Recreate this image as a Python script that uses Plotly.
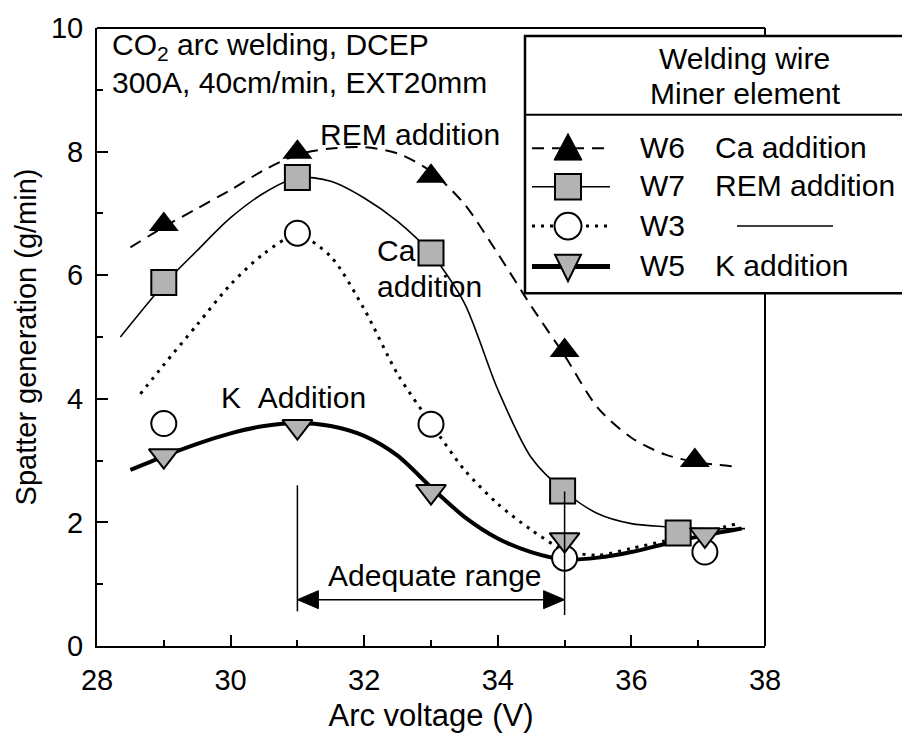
import plotly.graph_objects as go

# ---- measured spatter generation (g/min) vs arc voltage (V) ----
w6_v = [29, 31, 33, 35, 36.95]
w6_s = [6.82, 7.99, 7.6, 4.78, 3.0]

w7_v = [29, 31, 33, 34.97, 36.7]
w7_s = [5.88, 7.58, 6.36, 2.51, 1.83]

w3_v = [29, 31, 33, 35, 37.1]
w3_s = [3.6, 6.68, 3.59, 1.42, 1.52]

w5_v = [29, 31, 33, 35, 37.1]
w5_s = [3.08, 3.55, 2.5, 1.72, 1.8]

# ---- smoothed trend curves ----
w6_curve_v = [28.5, 29, 29.5, 30, 30.5, 31, 31.5, 32, 32.5, 33, 33.5, 34, 34.5, 35, 35.5, 36, 36.5, 37, 37.6]
w6_curve_s = [6.45, 6.78, 7.08, 7.38, 7.7, 7.95, 8.05, 8.07, 7.97, 7.68, 7.15, 6.35, 5.5, 4.7, 3.85, 3.37, 3.1, 2.97, 2.9]

w7_curve_v = [28.35, 29, 29.5, 30, 30.5, 31, 31.5, 32, 32.5, 33, 33.5, 34, 34.5, 35, 35.5, 36, 36.5, 37, 37.7]
w7_curve_s = [5.0, 5.85, 6.4, 6.93, 7.33, 7.58, 7.52, 7.25, 6.87, 6.35, 5.55, 4.15, 3.05, 2.5, 2.14, 1.98, 1.93, 1.9, 1.9]

w3_curve_v = [28.65, 29, 29.5, 30, 30.5, 31, 31.5, 32, 32.5, 33, 33.5, 34, 34.5, 35, 35.5, 36, 36.5, 37, 37.55]
w3_curve_s = [4.08, 4.55, 5.2, 5.85, 6.35, 6.65, 6.3, 5.45, 4.4, 3.6, 2.85, 2.3, 1.88, 1.55, 1.47, 1.58, 1.7, 1.82, 1.97]

w5_curve_v = [28.5, 29, 29.5, 30, 30.5, 31, 31.5, 32, 32.5, 33, 33.5, 34, 34.5, 35, 35.5, 36, 36.5, 37, 37.65]
w5_curve_s = [2.85, 3.07, 3.27, 3.44, 3.56, 3.61, 3.56, 3.4, 3.08, 2.57, 2.09, 1.74, 1.52, 1.4, 1.43, 1.52, 1.65, 1.77, 1.9]

# ---- axes ----
x_ticks = [28, 30, 32, 34, 36, 38]
y_ticks = [0, 2, 4, 6, 8, 10]
adequate_range = [31, 35]

# ---- legend content ----
legend_header = ["Welding wire", "Miner element"]
legend_wires = ["W6", "W7", "W3", "W5"]
legend_elements = ["Ca addition", "REM addition", "", "K addition"]

FONT = "Liberation Sans, Arial, sans-serif"
GRAY = "#b3b3b3"

W, H = 902, 739
ML, MR, MT, MB = 97, 137, 21, 91
PW, PH = W - ML - MR, H - MT - MB


def fx(p):
    """pixel column -> paper x"""
    return (p - ML) / PW


def fy(p):
    """pixel row -> paper y"""
    return (H - MB - p) / PH


fig = go.Figure()

curve_styles = [
    (w6_curve_v, w6_curve_s, dict(color="black", width=2, dash="12px,8px")),
    (w7_curve_v, w7_curve_s, dict(color="black", width=1.6)),
    (w3_curve_v, w3_curve_s, dict(color="black", width=3, dash="3px,6px")),
    (w5_curve_v, w5_curve_s, dict(color="black", width=4)),
]
for cv, cs, ln in curve_styles:
    fig.add_trace(go.Scatter(x=cv, y=cs, mode="lines", line=dict(shape="spline", smoothing=0.8, **ln),
                             hoverinfo="skip", showlegend=False))

marker_styles = [
    (w6_v, w6_s, dict(symbol="triangle-up", size=26, color="black", line=dict(width=0))),
    (w7_v, w7_s, dict(symbol="square", size=25, color=GRAY, line=dict(color="black", width=2))),
    (w3_v, w3_s, dict(symbol="circle", size=25, color="white", line=dict(color="black", width=2))),
    (w5_v, w5_s, dict(symbol="triangle-down", size=26, color=GRAY, line=dict(color="black", width=2))),
]
for mv, ms, mk in marker_styles:
    fig.add_trace(go.Scatter(x=mv, y=ms, mode="markers", marker=mk, showlegend=False))

shapes = []
# frame top and right
shapes.append(dict(type="line", xref="paper", yref="paper", x0=0, x1=1, y0=1, y1=1,
                   line=dict(color="black", width=2), layer="above"))
shapes.append(dict(type="line", xref="paper", yref="paper", x0=1, x1=1, y0=0, y1=1,
                   line=dict(color="black", width=2), layer="above"))

# adequate-range guide lines
shapes.append(dict(type="line", xref="x", yref="y", x0=adequate_range[0], x1=adequate_range[0],
                   y0=0.56, y1=2.6, line=dict(color="black", width=1.5)))
shapes.append(dict(type="line", xref="x", yref="y", x0=adequate_range[1], x1=adequate_range[1],
                   y0=0.5, y1=2.5, line=dict(color="black", width=1.5)))

# double-headed arrow spanning the adequate range
ARROW_Y = 0.75
shapes.append(dict(type="line", xref="x", yref="y", x0=adequate_range[0], x1=adequate_range[1],
                   y0=ARROW_Y, y1=ARROW_Y, line=dict(color="black", width=1.5)))
shapes.append(dict(type="path", xref="x", yref="y", xsizemode="pixel", ysizemode="pixel",
                   xanchor=adequate_range[0], yanchor=ARROW_Y,
                   path="M 0,0 L 21,9 L 21,-9 Z", fillcolor="black", line=dict(color="black", width=1)))
shapes.append(dict(type="path", xref="x", yref="y", xsizemode="pixel", ysizemode="pixel",
                   xanchor=adequate_range[1], yanchor=ARROW_Y,
                   path="M 0,0 L -21,9 L -21,-9 Z", fillcolor="black", line=dict(color="black", width=1)))

# legend box
LB_L, LB_T, LB_B, LB_DIV = 525, 29, 290, 109
shapes.append(dict(type="rect", xref="paper", yref="paper", x0=fx(LB_L), x1=fx(W + 10),
                   y0=fy(LB_B), y1=fy(LB_T), fillcolor="white",
                   line=dict(color="black", width=2.5), layer="above"))
shapes.append(dict(type="line", xref="paper", yref="paper", x0=fx(LB_L), x1=fx(W + 10),
                   y0=fy(LB_DIV), y1=fy(LB_DIV), line=dict(color="black", width=2), layer="above"))

row_y = [143, 182, 222, 263]
sample_x0, sample_x1, sample_xc = 532, 610, 568
sample_lines = [
    dict(color="black", width=2, dash="12px,8px"),
    dict(color="black", width=1.6),
    dict(color="black", width=3, dash="3px,6px"),
    dict(color="black", width=5),
]
for ry, ln in zip(row_y, sample_lines):
    shapes.append(dict(type="line", xref="paper", yref="paper", x0=fx(sample_x0), x1=fx(sample_x1),
                       y0=fy(ry), y1=fy(ry), line=ln, layer="above"))


def path(points):
    return "M " + " L ".join(f"{fx(a):.5f},{fy(b):.5f}" for a, b in points) + " Z"


c = sample_xc
# triangle up
ry = row_y[0]
shapes.append(dict(type="path", xref="paper", yref="paper",
                   path=path([(c - 14, ry + 12), (c + 14, ry + 12), (c, ry - 15)]),
                   fillcolor="black", line=dict(color="black", width=1), layer="above"))
# square
ry = row_y[1]
shapes.append(dict(type="rect", xref="paper", yref="paper", x0=fx(c - 13), x1=fx(c + 13),
                   y0=fy(ry + 13), y1=fy(ry - 13), fillcolor=GRAY,
                   line=dict(color="black", width=2), layer="above"))
# circle
ry = row_y[2]
shapes.append(dict(type="circle", xref="paper", yref="paper", x0=fx(c - 13.5), x1=fx(c + 13.5),
                   y0=fy(ry + 13.5), y1=fy(ry - 13.5), fillcolor="white",
                   line=dict(color="black", width=2), layer="above"))
# triangle down
ry = row_y[3]
shapes.append(dict(type="path", xref="paper", yref="paper",
                   path=path([(c - 13, ry - 12), (c + 13, ry - 12), (c, ry + 15)]),
                   fillcolor=GRAY, line=dict(color="black", width=2), layer="above"))
# dash standing in for "no element"
shapes.append(dict(type="line", xref="paper", yref="paper", x0=fx(737), x1=fx(833),
                   y0=fy(row_y[2]), y1=fy(row_y[2]), line=dict(color="black", width=1.5), layer="above"))

TXT = 30
annotations = []


def note(text, x, y, xref="x", yref="y", xanchor="left", size=TXT):
    annotations.append(dict(text=text, x=x, y=y, xref=xref, yref=yref, xanchor=xanchor,
                            yanchor="middle", showarrow=False, font=dict(family=FONT, size=size, color="black")))


note("CO<sub>2</sub> arc welding, DCEP", 28.19, 9.7)
note("300A, 40cm/min, EXT20mm", 28.19, 9.12)
note("REM addition", 32.69, 8.28, xanchor="center")
note("Ca", 32.16, 6.4)
note("addition", 32.16, 5.81)
note("K\u00a0\u00a0Addition", 29.83, 4.02)
note("Adequate range", 33.06, 1.14, xanchor="center")

# legend text
note(legend_header[0], fx(744), fy(52), "paper", "paper", "center")
note(legend_header[1], fx(745), fy(87), "paper", "paper", "center")
for ry, wname, el in zip(row_y, legend_wires, legend_elements):
    note(wname, fx(638), fy(ry - 1), "paper", "paper")
    if el:
        note(el, fx(713), fy(ry - 1), "paper", "paper")

fig.update_layout(
    width=W, height=H, autosize=False,
    margin=dict(l=ML, r=MR, t=MT, b=MB, pad=0),
    paper_bgcolor="white", plot_bgcolor="white",
    font=dict(family=FONT, color="black"),
    shapes=shapes, annotations=annotations,
    showlegend=False,
)
fig.update_xaxes(
    range=[28, 38], tickvals=x_ticks, ticktext=[str(t) for t in x_ticks],
    ticks="inside", ticklen=11, tickwidth=2, tickcolor="black",
    showline=True, linewidth=2, linecolor="black", showgrid=False, zeroline=False,
    minor=dict(dtick=1, tick0=28, ticks="inside", ticklen=6, tickwidth=2, tickcolor="black"),
    tickfont=dict(family=FONT, size=29), ticklabelstandoff=7,
    title=dict(text="Arc voltage (V)", font=dict(family=FONT, size=31), standoff=10),
)
fig.update_yaxes(
    range=[0, 10], tickvals=y_ticks, ticktext=[str(t) for t in y_ticks],
    ticks="inside", ticklen=11, tickwidth=2, tickcolor="black",
    showline=True, linewidth=2, linecolor="black", showgrid=False, zeroline=False,
    minor=dict(dtick=1, tick0=0, ticks="inside", ticklen=6, tickwidth=2, tickcolor="black"),
    tickfont=dict(family=FONT, size=29), ticklabelstandoff=6,
    title=dict(text="Spatter generation (g/min)", font=dict(family=FONT, size=29), standoff=6),
)

fig.write_html("out.html")
